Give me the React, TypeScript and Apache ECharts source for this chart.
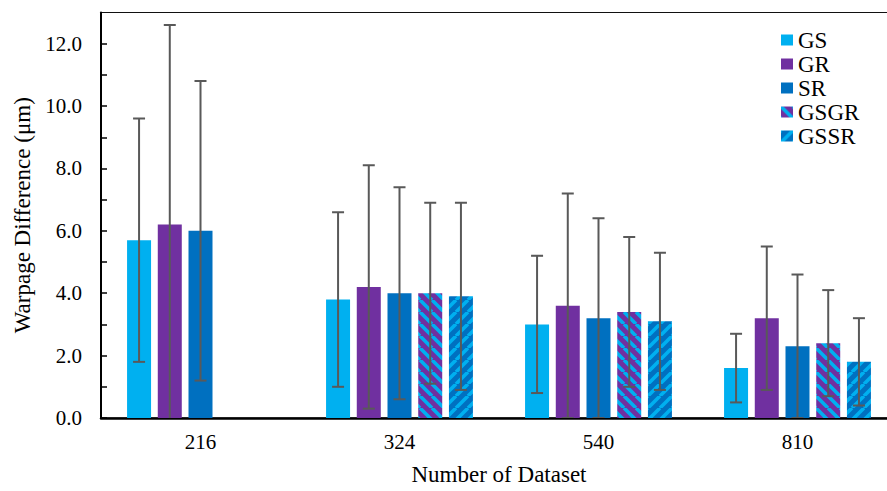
import React, { useEffect, useRef } from 'react';
import * as echarts from 'echarts';

const categories = ['216', '324', '540', '810'];
const seriesNames = ['GS', 'GR', 'SR', 'GSGR', 'GSSR'];

const gsValues = [5.7, 3.8, 3.0, 1.6];
const gsErrors = [3.9, 2.8, 2.2, 1.1];
const grValues = [6.2, 4.2, 3.6, 3.2];
const grErrors = [6.4, 3.9, 3.6, 2.3];
const srValues = [6.0, 4.0, 3.2, 2.3];
const srErrors = [4.8, 3.4, 3.2, 2.3];
const gsgrValues = [null, 4.0, 3.4, 2.4];
const gsgrErrors = [null, 2.9, 2.4, 1.7];
const gssrValues = [null, 3.9, 3.1, 1.8];
const gssrErrors = [null, 3.0, 2.2, 1.4];

const allValues = [gsValues, grValues, srValues, gsgrValues, gssrValues];
const allErrors = [gsErrors, grErrors, srErrors, gsgrErrors, gssrErrors];

const LIGHT = '#00B0F0';
const PURPLE = '#7030A0';
const BLUE = '#0070C0';
const FONT = '"Liberation Serif", "Times New Roman", serif';

const BAR_W = 24;
const BAR_GAP = 0.28;
const STEP = BAR_W * (1 + BAR_GAP);

function makeStripe(base: string, stripe: string, dir: 'down' | 'up') {
  const P = 12;
  const c = document.createElement('canvas');
  c.width = P;
  c.height = P;
  const ctx = c.getContext('2d')!;
  ctx.fillStyle = base;
  ctx.fillRect(0, 0, P, P);
  ctx.strokeStyle = stripe;
  ctx.lineWidth = 3.6;
  ctx.beginPath();
  for (const k of [-P, 0, P]) {
    if (dir === 'down') {
      ctx.moveTo(k, 0);
      ctx.lineTo(k + P, P);
    } else {
      ctx.moveTo(k, P);
      ctx.lineTo(k + P, 0);
    }
  }
  ctx.stroke();
  return { image: c, repeat: 'repeat' };
}

export default function App() {
  const ref = useRef<HTMLDivElement>(null);
  useEffect(() => {
    if (!ref.current) return;
    document.body.style.margin = '0';
    document.documentElement.style.overflow = 'hidden';
    const chart = echarts.init(ref.current, undefined, { renderer: 'svg' });
    const colors: any[] = [
      LIGHT,
      PURPLE,
      BLUE,
      makeStripe(PURPLE, LIGHT, 'down'),
      makeStripe(BLUE, LIGHT, 'up'),
    ];

    const barSeries = seriesNames.map((name, i) => ({
      name,
      type: 'bar',
      data: allValues[i],
      barWidth: BAR_W,
      barGap: `${BAR_GAP * 100}%`,
      itemStyle: { color: colors[i] },
      emphasis: { disabled: true },
      z: 2,
    }));

    const errSeries = seriesNames.map((name, i) => ({
      name: name + ' error',
      type: 'custom',
      z: 10,
      clip: true,
      silent: true,
      encode: { x: 0, y: 1 },
      data: allValues[i]
        .map((v, c) => (v == null ? null : [c, v, allErrors[i][c]]))
        .filter((d) => d != null),
      renderItem: (params: any, api: any) => {
        const cat = api.value(0);
        const v = api.value(1);
        const e = api.value(2);
        const base = api.coord([cat, v]);
        const x = base[0] + (i - 2) * STEP;
        const yHi = api.coord([cat, v + e])[1];
        const lo = v - e;
        const yLo = api.coord([cat, Math.max(lo, 0)])[1];
        const hw = 6;
        const style = { stroke: '#595959', lineWidth: 2 };
        const children: any[] = [
          { type: 'line', shape: { x1: x, y1: yHi, x2: x, y2: yLo }, style },
          { type: 'line', shape: { x1: x - hw, y1: yHi, x2: x + hw, y2: yHi }, style },
        ];
        if (lo >= 0) {
          children.push({ type: 'line', shape: { x1: x - hw, y1: yLo, x2: x + hw, y2: yLo }, style });
        }
        return { type: 'group', children };
      },
    }));

    chart.setOption({
      animation: false,
      grid: {
        left: 101,
        right: 4,
        top: 12.5,
        bottom: 70,
        show: true,
        borderColor: '#111',
        borderWidth: 1.2,
        backgroundColor: 'transparent',
      },
      legend: {
        data: seriesNames,
        orient: 'vertical',
        left: 781,
        top: 28,
        padding: 0,
        itemGap: 0,
        itemWidth: 12,
        itemHeight: 11,
        icon: 'rect',
        selectedMode: false,
        textStyle: { fontSize: 23, fontFamily: FONT, color: '#000', lineHeight: 24 },
      },
      xAxis: {
        type: 'category',
        data: categories,
        name: 'Number of Dataset',
        nameLocation: 'middle',
        nameGap: 45,
        nameTextStyle: { fontSize: 23, fontFamily: FONT, color: '#000' },
        axisLine: { show: true, lineStyle: { color: '#000', width: 2.5 } },
        axisTick: { show: false },
        axisLabel: { fontSize: 21, fontFamily: FONT, color: '#000', margin: 13 },
      },
      yAxis: {
        type: 'value',
        min: 0,
        max: 13,
        interval: 1,
        name: 'Warpage Difference (μm)',
        nameLocation: 'middle',
        nameGap: 63,
        nameTextStyle: { fontSize: 23, fontFamily: FONT, color: '#000' },
        axisLine: { show: true, lineStyle: { color: '#000', width: 2 } },
        axisTick: { show: true, inside: true, length: 6, lineStyle: { color: '#000', width: 1.5 } },
        splitLine: { show: false },
        axisLabel: {
          fontSize: 21,
          fontFamily: FONT,
          color: '#000',
          margin: 19,
          showMaxLabel: false,
          formatter: (v: number) => (Math.round(v) % 2 === 0 && v <= 12 ? v.toFixed(1) : ''),
        },
      },
      series: [...barSeries, ...errSeries],
    });
    return () => chart.dispose();
  }, []);
  return (
    <div
      style={{
        position: 'fixed',
        left: 0,
        top: 0,
        width: 887,
        height: 491,
        overflow: 'hidden',
        background: '#fff',
      }}
    >
      <div ref={ref} style={{ width: 901, height: 491 }} />
    </div>
  );
}
